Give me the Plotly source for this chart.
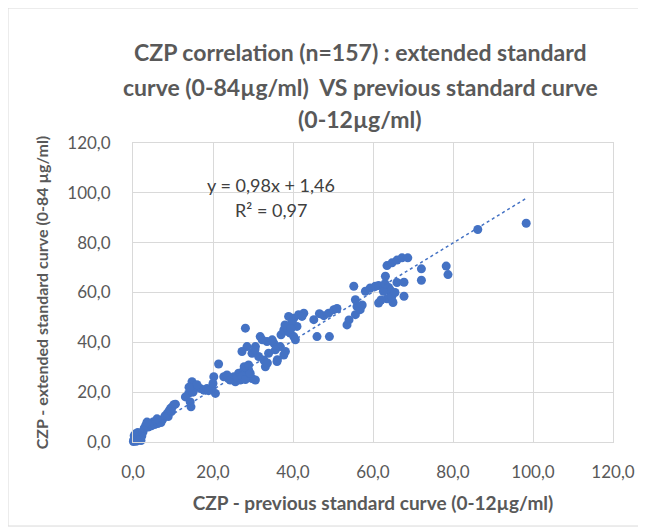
import plotly.graph_objects as go

# ---- data ----
x_prev = [
    # near origin
    0.1, 0.3, 0.5, 0.8, 1.0, 1.3, 1.6, 2.0, 0.2, 0.6, 1.2, 2.2, 0.9, 2.5,
    # 3-8
    2.8, 3.2, 3.8, 4.2, 4.6, 5.0, 5.4, 5.8, 6.2, 6.6, 7.0, 7.4, 3.5, 6.0,
    # 8-11
    8.0, 8.6, 9.0, 9.4, 9.8, 10.2, 10.6, 8.8, 9.6,
    # 13-21
    14.75, 15.6, 16.8, 13.9, 13.1, 14.3, 14.5, 17.7, 18.5, 20.6, 19.75, 18.9, 15.0, 16.0, 14.0, 20.2,
    21.4, 20.0,
    # 22-31
    22.7, 23.9, 25.2, 26.4, 27.7, 28.9, 29.75, 30.6, 25.6, 26.8, 28.5, 23.5, 24.3, 26.0, 27.25, 28.1, 29.3, 27.8,
    28.1,
    # 27-39
    31.8, 33.5, 35.2, 36.8, 38.1, 30.6, 28.5, 27.25, 29.75, 31.4, 32.7, 33.9, 36.0, 37.7, 28.9, 33.1, 34.8, 32.3,
    30.5, 35.6, 36.1, 33.6,
    # 37-43
    38.9, 40.2, 41.4, 42.7, 42.25, 37.7, 38.5, 39.3, 40.2, 40.6, 41.0, 39.75, 37.0, 38.0, 39.5,
    # 45-62
    45.2, 46.0, 49.1, 47.7, 48.9, 50.2, 53.5, 55.6, 56.0, 56.8, 55.6, 55.2, 58.1, 59.3, 60.6, 61.4, 57.3, 46.6,
    51.0, 54.0,
    # 61-70
    63.5, 64.75, 66.0, 67.25, 68.7, 63.1, 63.9, 64.5, 65.0, 63.5, 61.4, 62.0, 64.3, 64.7, 66.0, 67.75, 67.75,
    62.6, 65.5, 63.0,
    # outliers
    72.1, 72.1, 78.3, 78.75, 86.2, 98.3,
]
y_ext = [
    0.2, 2.5, 1.2, 0.3, 2.0, 0.8, 1.5, 0.6, 0.8, 3.2, 3.8, 2.4, 1.0, 4.0,
    5.5, 6.8, 6.0, 7.5, 6.5, 8.0, 7.0, 8.6, 7.4, 8.2, 7.8, 9.0, 8.0, 9.3,
    10.5, 11.5, 12.5, 13.5, 14.0, 15.0, 15.2, 10.2, 12.2,
    24.2, 22.2, 21.5, 19.5, 18.1, 16.1, 14.1, 20.8, 21.5, 19.5, 21.5, 20.6, 20.0, 23.0, 22.0, 26.2,
    31.3, 23.5,
    26.2, 25.5, 26.2, 27.6, 28.9, 28.9, 25.5, 24.9, 24.2, 24.9, 26.9, 26.9, 24.9, 25.9, 26.5, 25.1, 27.6, 30.2,
    45.7,
    42.3, 40.3, 39.7, 38.3, 36.3, 38.3, 38.3, 36.3, 35.6, 34.3, 32.9, 35.6, 32.3, 34.9, 30.9, 30.2, 41.0, 41.0,
    37.0, 37.0, 33.0, 31.7,
    50.4, 49.7, 51.1, 51.7, 50.4, 45.0, 44.4, 43.7, 42.3, 41.0, 46.4, 48.4, 43.0, 47.0, 45.5,
    49.1, 42.3, 42.3, 50.7, 51.7, 53.1, 47.0, 51.1, 54.4, 53.1, 57.1, 62.5, 60.5, 61.8, 62.5, 62.8, 55.0, 51.5,
    53.6, 49.0,
    70.8, 71.9, 73.0, 73.9, 73.9, 66.5, 62.0, 59.0, 56.0, 57.5, 55.8, 57.0, 61.0, 58.3, 64.0, 64.1, 58.5,
    60.5, 60.0, 63.5,
    69.5, 64.9, 70.6, 67.2, 85.3, 87.8,
]

slope = 0.98
intercept = 1.46
equation_text = "y = 0,98x + 1,46"
r2_text = "R² = 0,97"
tick_vals = [0, 20, 40, 60, 80, 100, 120]

title_lines = [
    "CZP correlation (n=157) : extended standard",
    "curve (0-84µg/ml)  VS previous standard curve",
    "(0-12µg/ml)",
]
x_title = "CZP - previous standard curve (0-12µg/ml)"
y_title = "CZP - extended standard curve (0-84 µg/ml)"

# ---- figure ----
BLUE = "#4472C4"
GREY = "#595959"
FONT = "Lato"

fig = go.Figure()
fig.add_trace(go.Scatter(
    x=x_prev, y=y_ext, mode="markers",
    marker=dict(size=9, color=BLUE, line=dict(width=0)),
    cliponaxis=False, showlegend=False,
))
tx = [min(x_prev), max(x_prev)]
fig.add_trace(go.Scatter(
    x=tx, y=[slope * v + intercept for v in tx], mode="lines",
    line=dict(color=BLUE, width=1.5, dash="dot"),
    showlegend=False,
))

annotations = []
for text, yy in zip(title_lines, [1.304, 1.187, 1.080]):
    annotations.append(dict(
        text=f"<b>{text}</b>", x=0.473, y=yy, xref="paper", yref="paper",
        xanchor="center", yanchor="middle", showarrow=False,
        font=dict(family=FONT, size=23, color=GREY),
    ))
annotations.append(dict(text=equation_text, x=0.2875, y=0.8595, xref="paper", yref="paper",
                        xanchor="center", yanchor="middle", showarrow=False,
                        font=dict(family=FONT, size=18, color="#404040")))
annotations.append(dict(text=r2_text, x=0.2875, y=0.776, xref="paper", yref="paper",
                        xanchor="center", yanchor="middle", showarrow=False,
                        font=dict(family=FONT, size=18, color="#404040")))

fig.update_layout(
    width=638, height=524,
    margin=dict(l=125, r=33, t=135, b=90),
    paper_bgcolor="white", plot_bgcolor="white",
    separators=", ",
    annotations=annotations,
    font=dict(family=FONT, color=GREY),
    shapes=[dict(type="rect", xref="paper", yref="paper",
                 x0=-0.2604, x1=1.056, y0=-0.281, y1=1.4515,
                 line=dict(color="#d9d9d9", width=1), layer="below")],
)
fig.update_xaxes(
    range=[0, 120], tickvals=tick_vals, tickformat=".1f",
    showgrid=True, gridcolor="#d9d9d9", gridwidth=1,
    zeroline=False, showline=True, mirror=True, linecolor="#d9d9d9", linewidth=1,
    ticks="", ticklabelstandoff=15, automargin=False,
    tickfont=dict(family=FONT, size=17, color=GREY),
    title=dict(text=f"<b>{x_title}</b>", standoff=15,
               font=dict(family=FONT, size=19, color=GREY)),
)
fig.update_yaxes(
    range=[0, 120], tickvals=tick_vals, tickformat=".1f",
    showgrid=True, gridcolor="#d9d9d9", gridwidth=1,
    zeroline=False, showline=True, mirror=True, linecolor="#d9d9d9", linewidth=1,
    ticks="", ticklabelstandoff=18, automargin=False,
    tickfont=dict(family=FONT, size=17, color=GREY),
    title=dict(text=f"<b>{y_title}</b>", standoff=14,
               font=dict(family=FONT, size=16, color=GREY)),
)

fig.write_html("out.html")
